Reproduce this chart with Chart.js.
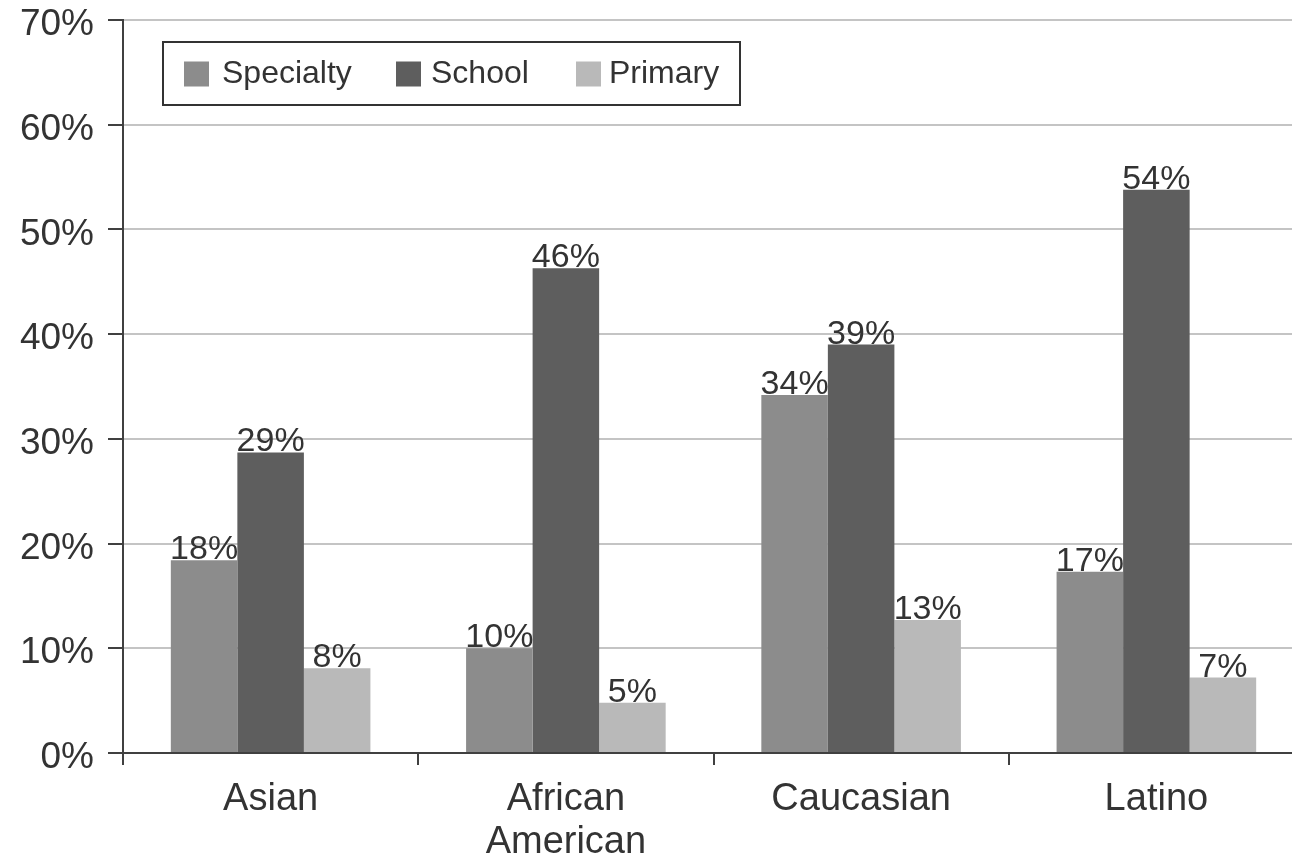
<!DOCTYPE html>
<html>
<head>
<meta charset="utf-8">
<script src="https://cdn.jsdelivr.net/npm/chart.js@4.4.1/dist/chart.umd.min.js"></script>
<style>
  html, body { margin: 0; padding: 0; background: #fff; overflow: hidden; width: 1292px; height: 858px; }
  #wrap { width: 1304px; height: 858px; position: relative; }
</style>
</head>
<body>
<div id="wrap"><canvas id="c"></canvas></div>
<script>
const categories = ["Asian", ["African", "American"], "Caucasian", "Latino"];
const seriesNames = ["Specialty", "School", "Primary"];
const specialty = [18.4, 10.0, 34.2, 17.3];
const school = [28.7, 46.3, 39.0, 53.8];
const primary = [8.1, 4.8, 12.7, 7.2];
const yTicks = [0, 10, 20, 30, 40, 50, 60, 70];
const colors = ["#8c8c8c", "#5e5e5e", "#b9b9b9"];

const FONT = "'Liberation Sans', Arial, sans-serif";
const TEXT = "#333333";

const valueLabels = {
  id: 'valueLabels',
  afterDatasetsDraw(chart) {
    const ctx = chart.ctx;
    ctx.save();
    ctx.font = "34px " + FONT;
    ctx.fillStyle = TEXT;
    ctx.textAlign = 'center';
    ctx.textBaseline = 'alphabetic';
    chart.data.datasets.forEach((ds, i) => {
      chart.getDatasetMeta(i).data.forEach((bar, j) => {
        ctx.fillText(Math.round(ds.data[j]) + '%', bar.x, bar.y - 1);
      });
    });
    ctx.restore();
  }
};

const legendSquareOffsets = [21, 233, 413];
const legendTextOffsets = [59, 268, 446];

const boxedLegend = {
  id: 'boxedLegend',
  afterDraw(chart) {
    const ctx = chart.ctx;
    const a = chart.chartArea;
    const left = a.left + 40, top = a.top + 22, w = 577, h = 63;
    ctx.save();
    ctx.fillStyle = '#fff';
    ctx.fillRect(left, top, w, h);
    ctx.strokeStyle = '#333';
    ctx.lineWidth = 2;
    ctx.strokeRect(left, top, w, h);
    ctx.font = "32px " + FONT;
    ctx.textBaseline = 'middle';
    ctx.textAlign = 'left';
    const cy = top + h / 2;
    chart.data.datasets.forEach((ds, i) => {
      ctx.fillStyle = ds.backgroundColor;
      ctx.fillRect(left + legendSquareOffsets[i], cy - 12, 25, 25);
      ctx.fillStyle = TEXT;
      ctx.fillText(ds.label, left + legendTextOffsets[i], cy + 1);
    });
    ctx.restore();
  }
};

new Chart(document.getElementById('c'), {
  type: 'bar',
  data: {
    labels: categories,
    datasets: [
      { label: seriesNames[0], data: specialty, backgroundColor: colors[0] },
      { label: seriesNames[1], data: school, backgroundColor: colors[1] },
      { label: seriesNames[2], data: primary, backgroundColor: colors[2] }
    ]
  },
  options: {
    responsive: true,
    maintainAspectRatio: false,
    animation: false,
    devicePixelRatio: 1,
    layout: { padding: { top: 20, left: 0, right: 0, bottom: 0 } },
    datasets: { bar: { categoryPercentage: 0.676, barPercentage: 1.0, borderWidth: 0 } },
    plugins: { legend: { display: false }, tooltip: { enabled: false } },
    scales: {
      x: {
        offset: true,
        grid: { offset: true, drawOnChartArea: false, drawTicks: true, tickLength: 12, color: '#404040', lineWidth: 2 },
        border: { display: true, color: '#404040', width: 2 },
        ticks: { color: TEXT, font: { family: FONT, size: 38, lineHeight: 1.13 }, padding: 13, maxRotation: 0, autoSkip: false },
        afterFit(scale) { scale.height = 105; scale.paddingLeft = 0; scale.paddingRight = 0; }
      },
      y: {
        min: 0, max: 70,
        afterBuildTicks(scale) { scale.ticks = yTicks.map(v => ({ value: v })); },
        grid: { color: '#c4c4c4', lineWidth: 2, tickColor: '#404040', tickLength: 15, drawTicks: true },
        border: { display: true, color: '#404040', width: 2 },
        ticks: { color: TEXT, font: { family: FONT, size: 37 }, padding: 14, labelOffset: 5, callback: v => v + '%' },
        afterFit(scale) { scale.width = 123; scale.paddingTop = 0; scale.paddingBottom = 0; }
      }
    }
  },
  plugins: [valueLabels, boxedLegend]
});
</script>
</body>
</html>
